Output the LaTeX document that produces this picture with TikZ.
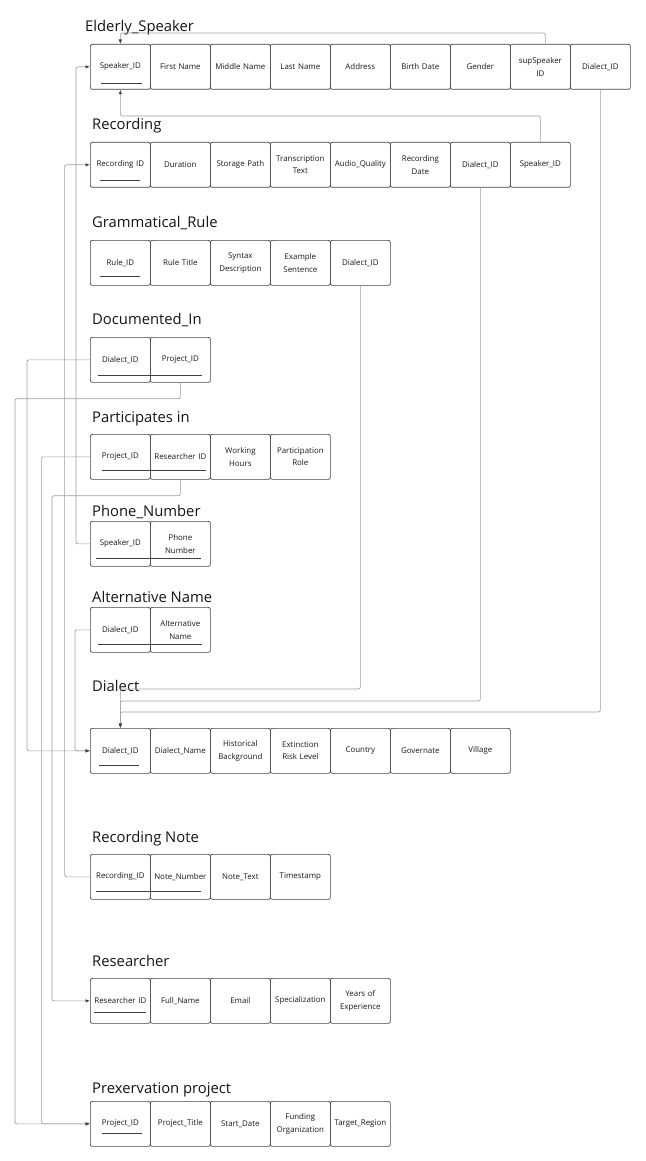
\documentclass[tikz,border=0pt]{standalone}
\usepackage{fontspec}
\setmainfont{Open Sans}
\usetikzlibrary{arrows.meta,calc}
\tikzset{
  cell/.style={draw=black!75, line width=0.7pt, rounded corners=2pt, minimum width=60pt, minimum height=45pt,
    inner sep=0.5pt, anchor=north west, align=center, text width=59pt, font=\fontsize{7.9}{12.5}\selectfont, text=black!90},
  title/.style={anchor=base west, font=\fontsize{14.8}{17}\selectfont, text=black!92, inner sep=0pt},
  conn/.style={draw=black!38, line width=0.7pt, rounded corners=2pt},
  arr/.style={conn, -{Latex[length=4.5pt,width=3.5pt,color=black!75]}},
  ul/.style={draw=black!75, line width=0.8pt}
}
\newcommand\erow[3]{%
  \foreach \t [count=\i] in {#3} {
    \node[cell] (#1\i) at ({90+60*(\i-1)}, #2) {\t};
  }%
}
\begin{document}
\begin{tikzpicture}[x=1pt,y=-1pt]
\useasboundingbox (0,0) rectangle (645,1161);
% titles
\node[title] (tES) at (85,32) {Elderly\_Speaker};
\node[title] (tRec) at (92,130) {Recording};
\node[title] (tGR) at (92,227) {Grammatical\_Rule};
\node[title] (tDI) at (92,324) {Documented\_In};
\node[title] (tPI) at (92,422) {Participates in};
\node[title] (tPN) at (92,516) {Phone\_Number};
\node[title] (tAN) at (92,602) {Alternative Name};
\node[title] (tD) at (92,691) {Dialect};
\node[title] (tRN) at (92,842) {Recording Note};
\node[title] (tR) at (92,966) {Researcher};
\node[title] (tP) at (92,1093) {Prexervation project};
% rows
\erow{es}{44}{Speaker\_ID, First Name, Middle Name, Last Name, Address, Birth Date, Gender, {supSpeaker\\ID}, Dialect\_ID}
\erow{rec}{142}{Recording ID, Duration, Storage Path, {Transcription\\Text}, Audio\_Quality, {Recording\\Date}, Dialect\_ID, Speaker\_ID}
\erow{gr}{240}{Rule\_ID, Rule Title, {Syntax\\Description}, {Example\\Sentence}, Dialect\_ID}
\erow{di}{337}{Dialect\_ID, Project\_ID}
\erow{pi}{434}{Project\_ID, Researcher ID, {Working\\Hours}, {Participation\\Role}}
\erow{pn}{521}{Speaker\_ID, {Phone\\Number}}
\erow{an}{607}{Dialect\_ID, {Alternative\\Name}}
\erow{d}{728}{Dialect\_ID, Dialect\_Name, {Historical\\Background}, {Extinction\\Risk Level}, Country, Governate, Village}
\erow{rn}{854}{Recording\_ID, Note\_Number, Note\_Text, Timestamp}
\erow{r}{978}{Researcher ID, Full\_Name, Email, Specialization, {Years of\\Experience}}
\erow{p}{1101}{Project\_ID, Project\_Title, Start\_Date, {Funding\\Organization}, Target\_Region}
% underlines (primary keys)
\draw[ul] (101,83) -- (142,83);
\draw[ul] (100,180) -- (140,180);
\draw[ul] (100,276) -- (140,276);
\draw[ul] (98,375) -- (202,375);
\draw[ul] (102,470) -- (206,470);
\draw[ul] (96,558) -- (201,558);
\draw[ul] (98,644) -- (202,644);
\draw[ul] (99,765) -- (139,765);
\draw[ul] (96,891) -- (201,891);
\draw[ul] (94,1012) -- (146,1012);
\draw[ul] (102,1133) -- (142,1133);
% connectors
\draw[arr] ([xshift=5pt]es8.north) -- ++(0,-11) -| (es1.north);
\draw[arr] (rec8.north) -- ++(0,-26) -| (es1.south);
\draw[arr] (rec7.south) |- ([yshift=27pt]d1.north) -- (d1.north);
\draw[arr] (es9.south) |- ([yshift=16pt]d1.north) -- (d1.north);
\draw[arr] (gr5.south) |- ([yshift=39pt]d1.north) -- (d1.north);
\draw[arr] (di1.west) -- ++(-63,0) |- (d1.west);
\draw[arr] (di2.south) -- ++(0,16) -| ([xshift=-75pt]p1.west) -- (p1.west);
\draw[arr] (pi1.west) -- ++(-48.4,0) |- (p1.west);
\draw[arr] (pi2.south) -- ++(0,16) -| ([xshift=-38pt]r1.west) -- (r1.west);
\draw[arr] (pn1.west) -- ++(-14,0) |- (es1.west);
\draw[arr] (an1.west) -- ++(-15,0) |- (d1.west);
\draw[arr] (rn1.west) -- ++(-25.4,0) |- (rec1.west);
\end{tikzpicture}
\end{document}
